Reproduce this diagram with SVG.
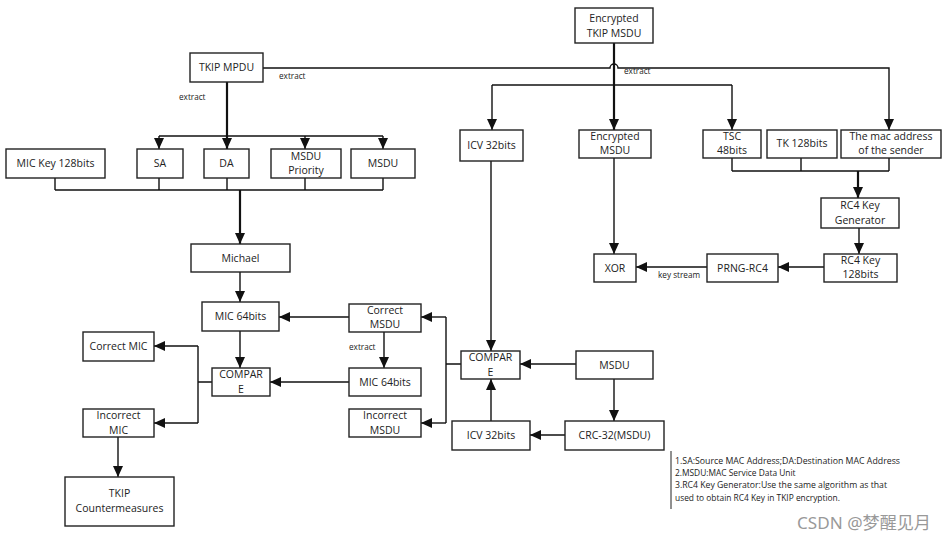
<svg xmlns="http://www.w3.org/2000/svg" width="944" height="540" viewBox="0 0 944 540">
<style>
.b{fill:#fff;stroke:#222;stroke-width:1.4}
.t{font-family:"Open Sans","Liberation Sans",sans-serif;font-size:10.5px;fill:#222;text-anchor:middle}
.s{font-family:"Open Sans","Liberation Sans",sans-serif;font-size:8.2px;fill:#222}
.l{font-family:"Open Sans","Liberation Sans",sans-serif;font-size:8.4px;fill:#222}
.c{fill:none;stroke:#111;stroke-width:1.4}
.k{fill:none;stroke:#111;stroke-width:2.2}
.a{marker-end:url(#ah)}
</style>
<defs>
<marker id="ah" markerUnits="userSpaceOnUse" markerWidth="12" markerHeight="10" refX="11" refY="5" orient="auto">
<path d="M0,0 L11,5 L0,10 Z" fill="#111"/>
</marker>
</defs>
<rect width="944" height="540" fill="#fff"/>

<g id="connectors">
<path class="c a" d="M263,68 H610 a4,4 0 0 1 8,0 H889 V130"/>
<path class="k" d="M227,82 V136"/>
<path class="c" d="M159,136 H383"/>
<path class="c a" d="M159,136 V149"/>
<path class="k a" d="M227,136 V149"/>
<path class="c a" d="M305,136 V149"/>
<path class="c a" d="M383,136 V149"/>
<path class="c" d="M55,178 V190 M159,178 V190 M227,178 V190 M305,178 V190 M383,178 V190 M55,190 H383"/>
<path class="k a" d="M240,190 V244"/>
<path class="c a" d="M240,272 V302"/>
<path class="c a" d="M240,331 V368"/>
<path class="c a" d="M349,317 H279"/>
<path class="c a" d="M384,332 V368"/>
<path class="c a" d="M349,382 H270"/>
<path class="c" d="M212,382 H198 M198,346 V423"/>
<path class="c a" d="M198,346 H154"/>
<path class="c a" d="M198,423 H154"/>
<path class="c a" d="M118,437 V477"/>
<path class="c" d="M461,364 H446 M446,317 V423"/>
<path class="c a" d="M446,317 H421"/>
<path class="c a" d="M446,423 H421"/>
<path class="c a" d="M491,161 V351"/>
<path class="c a" d="M491,421 V379"/>
<path class="c a" d="M576,364 H520"/>
<path class="c a" d="M565,435 H530"/>
<path class="c a" d="M614,379 V421"/>
<path class="k a" d="M614,43 V130"/>
<path class="c" d="M492,85 H732"/>
<path class="c a" d="M492,85 V130"/>
<path class="c a" d="M732,85 V130"/>
<path class="c a" d="M614,158 V254"/>
<path class="c" d="M732,158 V171 M801,158 V171 M889,158 V171 M732,171 H889"/>
<path class="k a" d="M858,171 V198"/>
<path class="c a" d="M859,228 V254"/>
<path class="c a" d="M824,267 H778"/>
<path class="c a" d="M707,267 H636"/>
<text class="s" x="279" y="79">extract</text>
<text class="s" x="179" y="100">extract</text>
<text class="s" x="624" y="74">extract</text>
<text class="s" x="349" y="350">extract</text>
<text class="s" x="658" y="278">key stream</text>
</g>

<g id="tkip-mpdu"><rect class="b" x="190" y="53" width="73" height="29"/><text class="t" x="226.5" y="71">TKIP MPDU</text></g>
<g id="enc-tkip-msdu"><rect class="b" x="575" y="8" width="78" height="35"/><text class="t" x="614" y="22">Encrypted</text><text class="t" x="614" y="37">TKIP MSDU</text></g>

<g id="mic-key"><rect class="b" x="6" y="149" width="99" height="29"/><text class="t" x="55.5" y="167">MIC Key 128bits</text></g>
<g id="sa"><rect class="b" x="137" y="149" width="46" height="29"/><text class="t" x="160" y="167">SA</text></g>
<g id="da"><rect class="b" x="204" y="149" width="45" height="29"/><text class="t" x="226.5" y="167">DA</text></g>
<g id="msdu-priority"><rect class="b" x="271" y="149" width="70" height="29"/><text class="t" x="306" y="160">MSDU</text><text class="t" x="306" y="174">Priority</text></g>
<g id="msdu-top"><rect class="b" x="351" y="149" width="64" height="29"/><text class="t" x="383" y="167">MSDU</text></g>

<g id="icv-top"><rect class="b" x="460" y="130" width="63" height="31"/><text class="t" x="491.5" y="149">ICV 32bits</text></g>
<g id="enc-msdu"><rect class="b" x="579" y="130" width="72" height="28"/><text class="t" x="615" y="140">Encrypted</text><text class="t" x="615" y="154">MSDU</text></g>
<g id="tsc"><rect class="b" x="703" y="130" width="58" height="28"/><text class="t" x="732" y="140">TSC</text><text class="t" x="732" y="154">48bits</text></g>
<g id="tk"><rect class="b" x="767" y="130" width="70" height="28"/><text class="t" x="802" y="147">TK 128bits</text></g>
<g id="mac"><rect class="b" x="841" y="130" width="100" height="28"/><text class="t" x="891" y="140">The mac address</text><text class="t" x="891" y="154">of the sender</text></g>

<g id="michael"><rect class="b" x="191" y="244" width="99" height="28"/><text class="t" x="240.5" y="262">Michael</text></g>
<g id="mic64-left"><rect class="b" x="202" y="302" width="77" height="29"/><text class="t" x="240.5" y="320">MIC 64bits</text></g>
<g id="compare-left"><rect class="b" x="212" y="368" width="58" height="28"/><text class="t" x="241" y="378">COMPAR</text><text class="t" x="241" y="393">E</text></g>
<g id="correct-msdu"><rect class="b" x="349" y="304" width="72" height="28"/><text class="t" x="385" y="314">Correct</text><text class="t" x="385" y="328">MSDU</text></g>
<g id="mic64-right"><rect class="b" x="349" y="368" width="72" height="28"/><text class="t" x="385" y="386">MIC 64bits</text></g>
<g id="incorrect-msdu"><rect class="b" x="349" y="409" width="72" height="28"/><text class="t" x="385" y="419">Incorrect</text><text class="t" x="385" y="434">MSDU</text></g>
<g id="correct-mic"><rect class="b" x="83" y="332" width="71" height="29"/><text class="t" x="118.5" y="350">Correct MIC</text></g>
<g id="incorrect-mic"><rect class="b" x="83" y="409" width="71" height="28"/><text class="t" x="118.5" y="419">Incorrect</text><text class="t" x="118.5" y="434">MIC</text></g>
<g id="countermeasures"><rect class="b" x="65" y="477" width="109" height="49"/><text class="t" x="119.5" y="497">TKIP</text><text class="t" x="119.5" y="512">Countermeasures</text></g>

<g id="compare-right"><rect class="b" x="461" y="351" width="59" height="28"/><text class="t" x="490.5" y="361">COMPAR</text><text class="t" x="490.5" y="376">E</text></g>
<g id="icv-bottom"><rect class="b" x="452" y="421" width="78" height="29"/><text class="t" x="491" y="439">ICV 32bits</text></g>
<g id="msdu-right"><rect class="b" x="576" y="351" width="77" height="28"/><text class="t" x="614.5" y="369">MSDU</text></g>
<g id="crc"><rect class="b" x="565" y="421" width="99" height="29"/><text class="t" x="614.5" y="439">CRC-32(MSDU)</text></g>
<g id="xor"><rect class="b" x="594" y="254" width="42" height="28"/><text class="t" x="615" y="272">XOR</text></g>
<g id="prng"><rect class="b" x="707" y="254" width="71" height="28"/><text class="t" x="742.5" y="272">PRNG-RC4</text></g>
<g id="rc4-key"><rect class="b" x="824" y="254" width="73" height="28"/><text class="t" x="860.5" y="264">RC4 Key</text><text class="t" x="860.5" y="278">128bits</text></g>
<g id="rc4-gen"><rect class="b" x="821" y="198" width="78" height="30"/><text class="t" x="860" y="209">RC4 Key</text><text class="t" x="860" y="224">Generator</text></g>

<g id="legend">
<path d="M671,451 V509" stroke="#222" stroke-width="1"/>
<text class="l" x="675" y="464" textLength="225" lengthAdjust="spacingAndGlyphs">1.SA:Source MAC Address;DA:Destination MAC Address</text>
<text class="l" x="675" y="476">2.MSDU:MAC Service Data Unit</text>
<text class="l" x="675" y="488" textLength="212" lengthAdjust="spacingAndGlyphs">3.RC4 Key Generator:Use the same algorithm as that</text>
<text class="l" x="675" y="501">used to obtain RC4 Key in TKIP encryption.</text>
</g>
<text x="797" y="529" font-family="'Noto Sans','Noto Sans CJK SC',sans-serif" font-size="17" fill="#999" textLength="134" lengthAdjust="spacingAndGlyphs">CSDN @梦醒见月</text>
</svg>
